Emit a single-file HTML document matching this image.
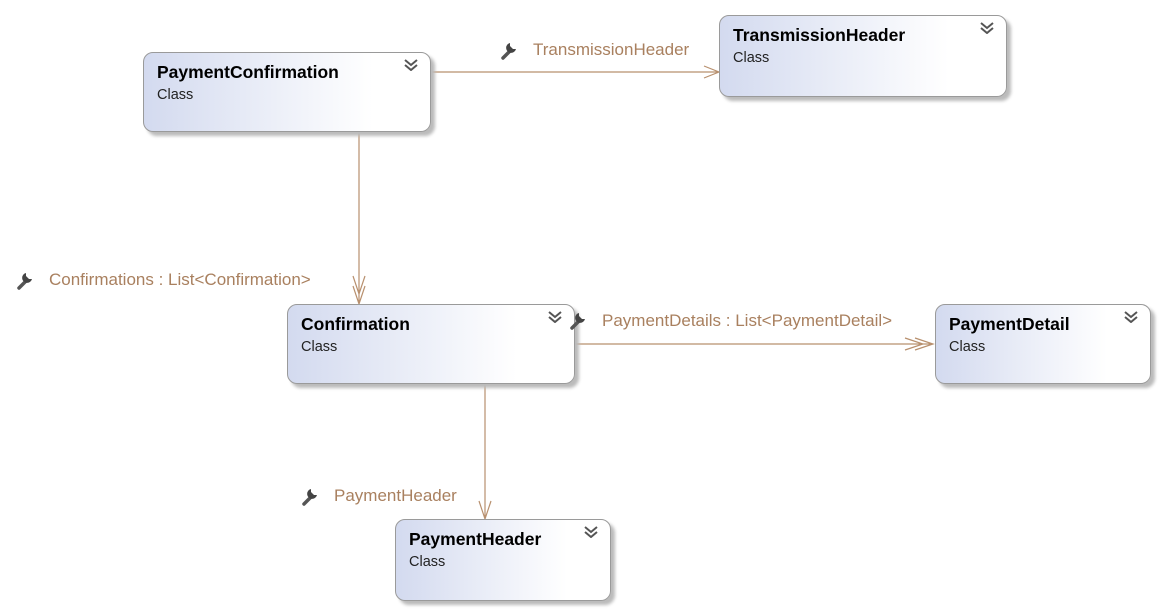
<!DOCTYPE html>
<html><head><style>
body{margin:0;width:1164px;height:613px;background:#fff;position:relative;overflow:hidden;font-family:"Liberation Sans",sans-serif}
.b{position:absolute;border:1px solid #9a9a9a;border-radius:10px;background:linear-gradient(to right,#d3daef,#ffffff 80%);box-shadow:4px 4px 3px #bbb;box-sizing:border-box}
.b .t{position:absolute;left:13px;top:9px;font-weight:bold;font-size:17.5px;color:#000}
.b .c{position:absolute;left:13px;top:34px;font-size:14.5px;color:#222}
.b svg{position:absolute;right:12px;top:6px}
.l{position:absolute;font-size:17px;color:#a9805f;white-space:nowrap}
.w{position:absolute}
</style></head><body>
<svg width="1164" height="613" style="position:absolute;left:0;top:0" fill="none" stroke="#b8906e" stroke-width="1.2">
<path d="M430 72H719M704 66L719 72L704 78"/>
<path d="M359 131V304M353 286L359 304L365 286M353 276L359 294L365 276" />
<path d="M575 344H933M915 338L933 344L915 350M905 338L923 344L905 350"/>
<path d="M485 383V519M479 501L485 519L491 501"/>
</svg>
<svg width="0" height="0"><defs>
<g id="ch"><path d="M1 1L7 6L13 1M1 6L7 11L13 6" fill="none" stroke="#555" stroke-width="2"/></g>
<g id="wr"><path d="M4 18L12 10" stroke="#555" stroke-width="3.5" stroke-linecap="round"/><path d="M11 3a5 5 0 1 0 6 6l-3 0l-3-3z" fill="#444"/></g>
</defs></svg>
<div class="b" style="left:143px;top:52px;width:288px;height:80px"><div class="t">PaymentConfirmation</div><div class="c">Class</div><svg width="14" height="12"><use href="#ch"/></svg></div>
<div class="b" style="left:719px;top:15px;width:288px;height:82px"><div class="t">TransmissionHeader</div><div class="c">Class</div><svg width="14" height="12"><use href="#ch"/></svg></div>
<div class="b" style="left:287px;top:304px;width:288px;height:80px"><div class="t">Confirmation</div><div class="c">Class</div><svg width="14" height="12"><use href="#ch"/></svg></div>
<div class="b" style="left:935px;top:304px;width:216px;height:80px"><div class="t">PaymentDetail</div><div class="c">Class</div><svg width="14" height="12"><use href="#ch"/></svg></div>
<div class="b" style="left:395px;top:519px;width:216px;height:82px"><div class="t">PaymentHeader</div><div class="c">Class</div><svg width="14" height="12"><use href="#ch"/></svg></div>
<svg class="w" style="left:499px;top:40px" width="22" height="22"><use href="#wr"/></svg><div class="l" style="left:533px;top:40px">TransmissionHeader</div>
<svg class="w" style="left:15px;top:270px" width="22" height="22"><use href="#wr"/></svg><div class="l" style="left:49px;top:270px">Confirmations : List&lt;Confirmation&gt;</div>
<svg class="w" style="left:568px;top:310px" width="22" height="22"><use href="#wr"/></svg><div class="l" style="left:602px;top:311px">PaymentDetails : List&lt;PaymentDetail&gt;</div>
<svg class="w" style="left:300px;top:486px" width="22" height="22"><use href="#wr"/></svg><div class="l" style="left:334px;top:486px">PaymentHeader</div>
</body></html>
